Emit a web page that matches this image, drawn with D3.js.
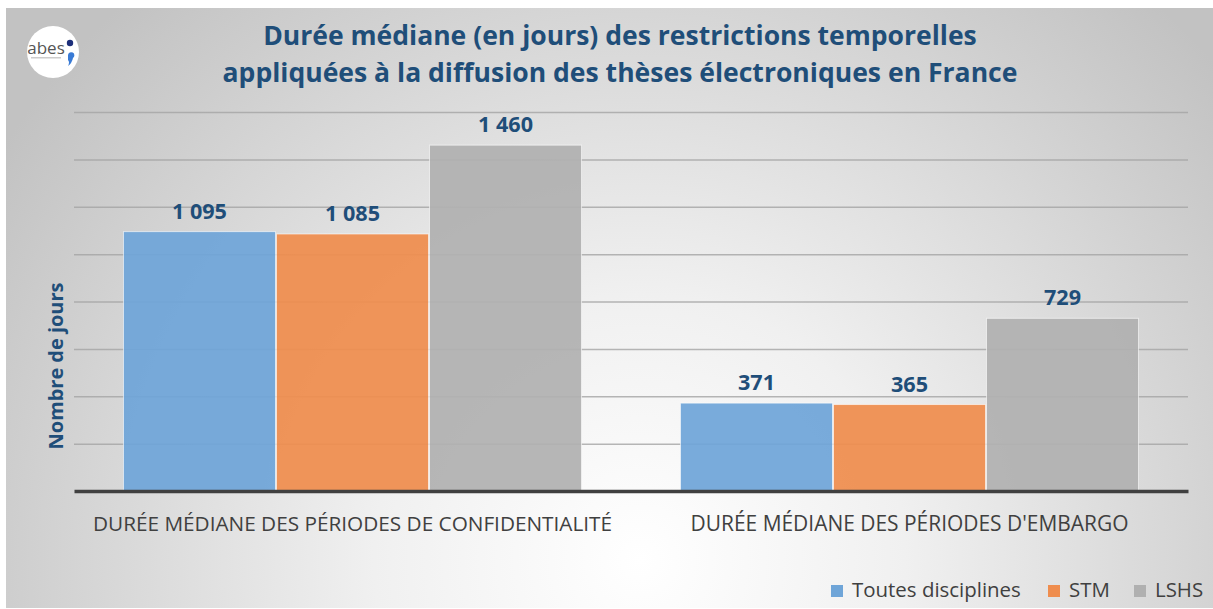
<!DOCTYPE html>
<html><head><meta charset="utf-8">
<script src="https://cdn.jsdelivr.net/npm/d3@7"></script>
<style>
html,body{margin:0;padding:0;background:#fff;}
svg{display:block;}
text{font-family:"Open Sans",Lato,sans-serif;}
</style></head>
<body><svg id="c" width="1213" height="609"></svg>
<script>
const categories = ["DURÉE MÉDIANE DES PÉRIODES DE CONFIDENTIALITÉ", "DURÉE MÉDIANE DES PÉRIODES D'EMBARGO"];
const seriesNames = ["Toutes disciplines", "STM", "LSHS"];
const toutesValues = [1095, 371];
const stmValues = [1085, 365];
const lshsValues = [1460, 729];
const yTicks = [0, 200, 400, 600, 800, 1000, 1200, 1400, 1600];
const colors = ["#6fa5d8", "#ef8d4e", "#b0b0b0"];
const titleLines = ["Durée médiane (en jours) des restrictions temporelles", "appliquées à la diffusion des thèses électroniques en France"];
const yTitle = "Nombre de jours";

const seriesValues = [toutesValues, stmValues, lshsValues];
const svg = d3.select("#c");
const defs = svg.append("defs");
const rg = defs.append("radialGradient").attr("id","bg").attr("gradientUnits","userSpaceOnUse")
  .attr("cx",640).attr("cy",560).attr("r",760);
rg.append("stop").attr("offset","0").attr("stop-color","#ffffff");
rg.append("stop").attr("offset","0.35").attr("stop-color","#f0f0f0");
rg.append("stop").attr("offset","1").attr("stop-color","#c2c2c2");

svg.append("rect").attr("x",6).attr("y",8).attr("width",1207).attr("height",600).attr("fill","url(#bg)");

const fmt = v => d3.format(",")(v).replace(/,/g, " ");

function fit(sel, target) {
  sel.each(function() {
    const fs = parseFloat(this.getAttribute("font-size"));
    const w = this.getComputedTextLength();
    if (w > 0) this.setAttribute("font-size", (fs * target / w).toFixed(2));
  });
  return sel;
}

const margin = {left:74, right:1188, top:112, bottom:491};
const x0 = d3.scaleBand().domain(categories).range([margin.left, margin.right]).paddingInner(0).paddingOuter(0);
const x1 = d3.scaleBand().domain(seriesNames).range([0, x0.bandwidth()]).paddingOuter(0.32).paddingInner(0);
const y = d3.scaleLinear().domain([0,1600]).range([margin.bottom, margin.top]);

// gridlines
const yAxis = d3.axisLeft(y).tickValues(yTicks.slice(1)).tickSize(-(margin.right-margin.left)).tickFormat("");
const ga = svg.append("g").attr("transform",`translate(${margin.left},0)`).call(yAxis);
ga.select(".domain").remove();
ga.selectAll(".tick line").attr("stroke","#a4a4a4").attr("stroke-opacity",0.8).attr("stroke-width",1.5);

// bars
const groups = svg.append("g").selectAll("g").data(categories).join("g")
  .attr("transform", d => `translate(${x0(d)},0)`);
groups.selectAll("rect").data((d,i) => seriesNames.map((s,j) => ({s, v: seriesValues[j][i], j})))
  .join("rect")
  .attr("x", d => x1(d.s)+0.5)
  .attr("y", d => y(d.v))
  .attr("width", x1.bandwidth()-1)
  .attr("height", d => y(0)-y(d.v))
  .attr("fill", d => colors[d.j])
  .attr("fill-opacity", 0.93)
  .attr("stroke","#ffffff").attr("stroke-opacity",0.6).attr("stroke-width",1);

const vals = groups.selectAll("text.val").data((d,i) => seriesNames.map((s,j) => ({s, v: seriesValues[j][i]})))
  .join("text").attr("class","val")
  .attr("x", d => x1(d.s)+x1.bandwidth()/2)
  .attr("y", d => y(d.v)-13)
  .attr("text-anchor","middle")
  .attr("font-size",18).attr("font-weight","bold").attr("fill","#1f4e79")
  .text(d => fmt(d.v));
const refW = svg.append("text").attr("font-size",18).attr("font-weight","bold").text("1 460");
const valFs = 18 * 55 / refW.node().getComputedTextLength();
refW.remove();
vals.attr("font-size", valFs.toFixed(2));

// baseline + category labels
const xAxis = d3.axisBottom(x0).tickSize(0).tickPadding(22);
const gx = svg.append("g").attr("transform",`translate(0,${margin.bottom})`).call(xAxis);
gx.select(".domain").attr("stroke","#404040").attr("stroke-width",3.5);
const catTexts = gx.selectAll(".tick text").attr("font-family","'Open Sans', Lato, sans-serif").attr("font-size",17).attr("fill","#404040").attr("dy","0.85em");
const catW = [519, 438];
catTexts.each(function(d,i){ fit(d3.select(this), catW[i]); });

// y title
fit(svg.append("text").attr("transform","translate(63,366) rotate(-90)")
  .attr("text-anchor","middle").attr("font-size",18).attr("font-weight","bold").attr("fill","#1f4e79").text(yTitle), 167);

// title
fit(svg.append("text").attr("x",620).attr("y",45).attr("text-anchor","middle").attr("font-size",25).attr("font-weight","bold").attr("fill","#1f4e79").text(titleLines[0]), 714);
fit(svg.append("text").attr("x",620).attr("y",82).attr("text-anchor","middle").attr("font-size",25).attr("font-weight","bold").attr("fill","#1f4e79").text(titleLines[1]), 795);

// logo
const logo = svg.append("g").attr("transform","translate(53,52)");
logo.append("circle").attr("r",26).attr("fill","#ffffff");
logo.append("text").attr("x",-7).attr("y",2).attr("text-anchor","middle").attr("font-size",17).attr("fill","#555").attr("font-family","Liberation Sans, sans-serif").text("abes");
logo.append("rect").attr("x",-22).attr("y",5).attr("width",30).attr("height",1.5).attr("fill","#ccc");
logo.append("circle").attr("cx",17).attr("cy",-9).attr("r",3.2).attr("fill","#1c2e7a");
logo.append("path").attr("d","M15,3 a3.2,3.2 0 1 1 5,3 q-1,5 -5,8 q2,-4 0,-6 z").attr("fill","#3a7bd5");

// legend
const legendX = [831, 1048, 1134];
const lg = svg.append("g");
seriesNames.forEach((s,i) => {
  lg.append("rect").attr("x",legendX[i]).attr("y",585).attr("width",12).attr("height",12).attr("fill",colors[i]);
  const t = lg.append("text").attr("x",legendX[i]+21).attr("y",597).attr("font-size",17).attr("fill","#404040").text(s);
  if (i === 0) fit(t, 169);
});
const legFs = lg.select("text").attr("font-size");
lg.selectAll("text").attr("font-size", legFs);
</script></body></html>
